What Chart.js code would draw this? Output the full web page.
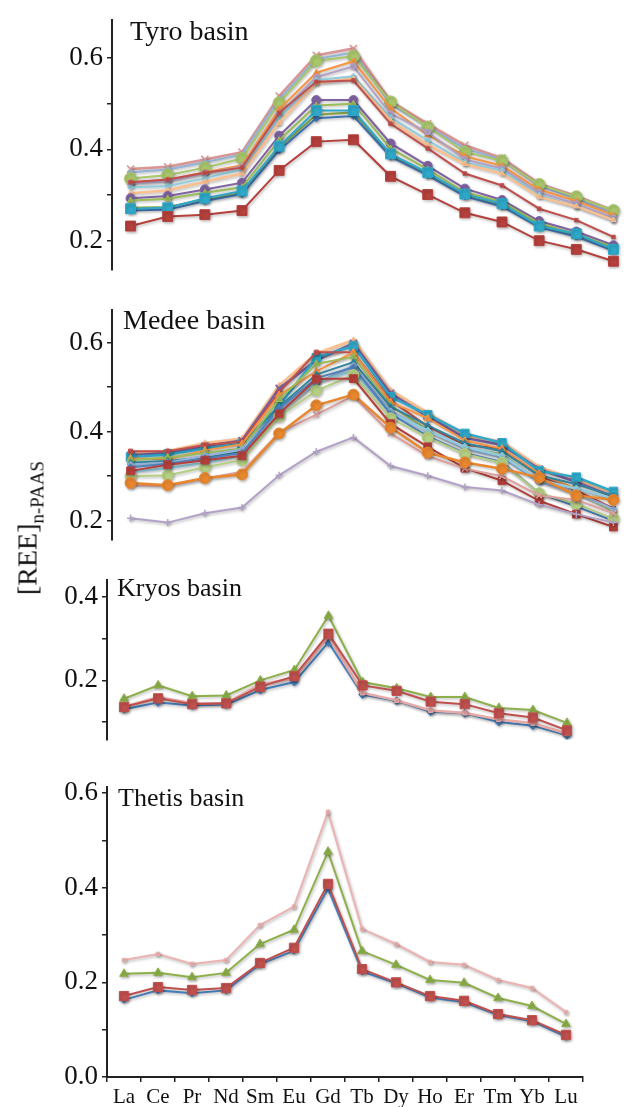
<!DOCTYPE html>
<html>
<head>
<meta charset="utf-8">
<script src="https://cdn.jsdelivr.net/npm/chart.js@4.4.1/dist/chart.umd.min.js"></script>
<style>
  html, body { margin: 0; padding: 0; background: #fff; overflow: hidden; }
  #wrap { position: relative; width: 629px; height: 1107px; overflow: hidden; }
  canvas { position: absolute; left: 0; }
  .basin { position: absolute; font-family: "Liberation Serif", "Times New Roman", serif; color: #111; line-height: 28px; white-space: nowrap; }
  #ytitle { position: absolute; left: 30px; top: 528px; transform: translate(-50%, -50%) rotate(-90deg);
            font-family: "Liberation Serif", "Times New Roman", serif; font-size: 28px; color: #111; white-space: nowrap; }
  #ytitle sub { font-size: 19px; vertical-align: -7px; }
</style>
</head>
<body>
<div id="wrap">
  <canvas id="tyro" width="640" height="290" style="top:0px"></canvas>
  <canvas id="medee" width="640" height="270" style="top:290px"></canvas>
  <canvas id="kryos" width="629" height="200" style="top:560px"></canvas>
  <canvas id="thetis" width="629" height="367" style="top:740px"></canvas>
  <div class="basin" style="left:130px;top:17px;font-size:28px">Tyro basin</div>
  <div class="basin" style="left:123px;top:306px;font-size:28px">Medee basin</div>
  <div class="basin" style="left:117px;top:574px;font-size:26px">Kryos basin</div>
  <div class="basin" style="left:118px;top:784px;font-size:26px">Thetis basin</div>
  <div id="ytitle">[REE]<sub>n-PAAS</sub></div>
</div>
<script>
// -------------------------
// Data
// -------------------------
const elements = ["La", "Ce", "Pr", "Nd", "Sm", "Eu", "Gd", "Tb", "Dy", "Ho", "Er", "Tm", "Yb", "Lu"];

// Tyro basin
const tyro01 = [0.357, 0.362, 0.378, 0.394, 0.517, 0.606, 0.621, 0.506, 0.456, 0.409, 0.381, 0.325, 0.298, 0.266];
const tyro02 = [0.350, 0.356, 0.372, 0.389, 0.510, 0.598, 0.612, 0.500, 0.450, 0.402, 0.377, 0.320, 0.292, 0.258];
const tyro03 = [0.336, 0.344, 0.360, 0.380, 0.502, 0.594, 0.604, 0.504, 0.449, 0.394, 0.375, 0.323, 0.296, 0.266];
const tyro04 = [0.328, 0.333, 0.350, 0.365, 0.488, 0.568, 0.593, 0.490, 0.432, 0.385, 0.364, 0.312, 0.287, 0.256];
const tyro05 = [0.326, 0.330, 0.348, 0.362, 0.478, 0.558, 0.582, 0.478, 0.438, 0.378, 0.358, 0.306, 0.281, 0.250];
const tyro06 = [0.328, 0.334, 0.349, 0.360, 0.480, 0.548, 0.551, 0.456, 0.402, 0.347, 0.321, 0.270, 0.245, 0.208];
const tyro07 = [0.317, 0.320, 0.337, 0.356, 0.470, 0.552, 0.560, 0.470, 0.420, 0.372, 0.354, 0.300, 0.275, 0.245];
const tyro08 = [0.304, 0.310, 0.329, 0.347, 0.458, 0.545, 0.555, 0.463, 0.410, 0.368, 0.347, 0.296, 0.275, 0.245];
const tyro09 = [0.293, 0.298, 0.312, 0.327, 0.430, 0.508, 0.508, 0.413, 0.364, 0.314, 0.289, 0.243, 0.220, 0.190];
const tyro10 = [0.288, 0.292, 0.305, 0.317, 0.420, 0.496, 0.500, 0.402, 0.356, 0.306, 0.285, 0.238, 0.214, 0.186];
const tyro11 = [0.270, 0.272, 0.293, 0.309, 0.407, 0.485, 0.485, 0.390, 0.349, 0.302, 0.281, 0.232, 0.215, 0.181];
const tyro12 = [0.272, 0.274, 0.290, 0.305, 0.404, 0.476, 0.481, 0.386, 0.346, 0.300, 0.278, 0.234, 0.211, 0.183];
const tyro13 = [0.266, 0.268, 0.287, 0.302, 0.398, 0.468, 0.473, 0.384, 0.343, 0.297, 0.275, 0.229, 0.209, 0.178];
const tyro14 = [0.232, 0.253, 0.257, 0.266, 0.354, 0.417, 0.421, 0.341, 0.301, 0.261, 0.241, 0.200, 0.181, 0.155];

// Medee basin
const medee01 = [0.352, 0.356, 0.374, 0.384, 0.503, 0.575, 0.605, 0.492, 0.442, 0.392, 0.377, 0.320, 0.292, 0.262];
const medee02 = [0.347, 0.352, 0.367, 0.380, 0.497, 0.560, 0.598, 0.486, 0.434, 0.386, 0.370, 0.316, 0.287, 0.254];
const medee03 = [0.343, 0.349, 0.362, 0.373, 0.458, 0.566, 0.592, 0.478, 0.438, 0.396, 0.375, 0.312, 0.298, 0.266];
const medee04 = [0.356, 0.356, 0.370, 0.378, 0.488, 0.578, 0.578, 0.470, 0.412, 0.370, 0.362, 0.300, 0.268, 0.228];
const medee05 = [0.340, 0.338, 0.358, 0.372, 0.482, 0.535, 0.578, 0.466, 0.430, 0.380, 0.362, 0.306, 0.272, 0.248];
const medee06 = [0.336, 0.342, 0.352, 0.362, 0.472, 0.552, 0.568, 0.458, 0.404, 0.362, 0.350, 0.290, 0.262, 0.222];
const medee07 = [0.330, 0.334, 0.342, 0.356, 0.456, 0.528, 0.556, 0.456, 0.414, 0.374, 0.356, 0.302, 0.282, 0.256];
const medee08 = [0.326, 0.330, 0.346, 0.360, 0.448, 0.508, 0.548, 0.446, 0.402, 0.362, 0.342, 0.288, 0.262, 0.226];
const medee09 = [0.320, 0.328, 0.340, 0.352, 0.452, 0.520, 0.544, 0.440, 0.390, 0.352, 0.332, 0.262, 0.232, 0.200];
const medee10 = [0.310, 0.318, 0.330, 0.346, 0.442, 0.512, 0.536, 0.442, 0.402, 0.366, 0.346, 0.292, 0.272, 0.250];
const medee11 = [0.312, 0.326, 0.336, 0.346, 0.440, 0.518, 0.519, 0.418, 0.366, 0.318, 0.290, 0.245, 0.215, 0.186];
const medee12 = [0.300, 0.302, 0.320, 0.336, 0.434, 0.492, 0.527, 0.430, 0.387, 0.350, 0.330, 0.262, 0.238, 0.205];
const medee13 = [0.279, 0.278, 0.295, 0.310, 0.398, 0.438, 0.480, 0.396, 0.345, 0.317, 0.300, 0.257, 0.247, 0.217];
const medee14 = [0.285, 0.280, 0.296, 0.304, 0.396, 0.459, 0.483, 0.409, 0.353, 0.331, 0.317, 0.297, 0.257, 0.247];
const medee15 = [0.206, 0.196, 0.217, 0.230, 0.302, 0.355, 0.387, 0.323, 0.301, 0.276, 0.268, 0.236, 0.215, 0.196];

// Kryos basin
const kryosGreen = [0.156, 0.188, 0.162, 0.164, 0.200, 0.225, 0.355, 0.196, 0.181, 0.160, 0.160, 0.134, 0.129, 0.098];
const kryosRed   = [0.136, 0.157, 0.143, 0.145, 0.185, 0.210, 0.312, 0.188, 0.175, 0.149, 0.143, 0.121, 0.111, 0.080];
const kryosPink  = [0.137, 0.160, 0.145, 0.146, 0.190, 0.205, 0.305, 0.170, 0.152, 0.128, 0.122, 0.106, 0.097, 0.072];
const kryosBlue  = [0.131, 0.147, 0.140, 0.142, 0.177, 0.196, 0.291, 0.166, 0.151, 0.125, 0.121, 0.100, 0.091, 0.068];

// Thetis basin
const thetisPink  = [0.247, 0.260, 0.239, 0.247, 0.321, 0.360, 0.560, 0.313, 0.281, 0.243, 0.237, 0.205, 0.188, 0.137];
const thetisGreen = [0.218, 0.220, 0.211, 0.220, 0.281, 0.311, 0.476, 0.266, 0.237, 0.205, 0.199, 0.167, 0.150, 0.112];
const thetisRed   = [0.171, 0.190, 0.184, 0.188, 0.241, 0.273, 0.408, 0.228, 0.200, 0.171, 0.161, 0.133, 0.120, 0.089];
const thetisBlue  = [0.163, 0.183, 0.177, 0.183, 0.238, 0.267, 0.398, 0.223, 0.198, 0.168, 0.158, 0.131, 0.118, 0.085];

// -------------------------
// Helpers
// -------------------------
const SERIF = "'Liberation Serif', 'Times New Roman', serif";

function series(data, color, style, radius, width) {
  return {
    data: data,
    borderColor: color,
    backgroundColor: color,
    borderWidth: width || 2,
    pointStyle: style,
    pointRadius: radius,
    pointBorderWidth: style === "crossRot" || style === "cross" ? 1.5 : 1,
    pointBorderColor: color,
    pointBackgroundColor: color,
    tension: 0
  };
}

// soft Excel-ish shadow under lines and markers
const shadowPlugin = {
  id: "shadow",
  beforeDatasetsDraw(chart) {
    const ctx = chart.ctx;
    ctx.save();
    ctx.shadowColor = "rgba(0,0,0,0.28)";
    ctx.shadowBlur = 3;
    ctx.shadowOffsetX = 1;
    ctx.shadowOffsetY = 1.5;
  },
  afterDatasetsDraw(chart) {
    chart.ctx.restore();
  }
};

function makePanel(id, datasets, cfg) {
  const showX = !!cfg.showX;
  return new Chart(document.getElementById(id), {
    type: "line",
    data: { labels: elements, datasets: datasets },
    options: {
      responsive: false,
      animation: false,
      devicePixelRatio: 1,
      layout: { padding: { left: 0, right: cfg.padRight, top: cfg.padTop, bottom: cfg.padBottom } },
      plugins: { legend: { display: false }, tooltip: { enabled: false } },
      scales: {
        x: {
          display: showX,
          offset: true,
          afterFit: s => { s.height = showX ? 30 : 0; },
          grid: { offset: true, drawOnChartArea: false, drawTicks: true, tickLength: 5, color: "#222", lineWidth: 1.5 },
          border: { display: true, color: "#222", width: 2 },
          ticks: { color: "#111", padding: 3, font: { family: SERIF, size: 21 }, maxRotation: 0, autoSkip: false }
        },
        y: {
          min: cfg.min,
          max: cfg.max,
          afterFit: s => { s.width = cfg.axisX; },
          grid: { drawOnChartArea: false, drawTicks: true, tickLength: 5, color: "#222", lineWidth: 1.5 },
          border: { display: true, color: "#222", width: 2 },
          ticks: {
            stepSize: 0.1,
            includeBounds: false,
            padding: 4,
            color: "#111",
            font: { family: SERIF, size: 27 },
            callback: v => (Math.round(v * 10) % 2 === 0 ? v.toFixed(1) : "")
          }
        }
      }
    },
    plugins: [shadowPlugin]
  });
}

// -------------------------
// Panels
// -------------------------
makePanel("tyro", [
  series(tyro14, "#B5403C", "rect", 7, 2),
  series(tyro11, "#2FA8C9", "rect", 7, 2),
  series(tyro13, "#3F73B5", "rectRot", 3.5, 2),
  series(tyro12, "#8DB04A", "triangle", 3.5, 2),
  series(tyro10, "#9BBB59", "triangle", 3.5, 2),
  series(tyro09, "#8064A2", "circle", 4.5, 2),
  series(tyro06, "#C0504D", "rect", 2.5, 2),
  series(tyro08, "#FAC090", "triangle", 3, 2.5),
  series(tyro07, "#93CDDD", "rectRot", 3, 2),
  series(tyro05, "#B3A2C7", "circle", 3, 2),
  series(tyro04, "#F79646", "triangle", 3.5, 2),
  series(tyro03, "#A8C66C", "circle", 6, 2),
  series(tyro02, "#95B3D7", "rectRot", 3, 2),
  series(tyro01, "#D99694", "crossRot", 5, 2.5)
], { min: 0.2 - 30 / 470, max: 0.6 + 39 / 470, axisX: 112, padRight: 8, padTop: 15, padBottom: 18 });

makePanel("medee", [
  series(medee15, "#B3A2C7", "cross", 3.5, 2),
  series(medee14, "#E8872E", "circle", 5.5, 2.5),
  series(medee13, "#DFA09E", "crossRot", 4, 2),
  series(medee11, "#B5403C", "rect", 5.5, 2),
  series(medee12, "#B5CF83", "circle", 5.5, 2),
  series(medee09, "#4F81BD", "rectRot", 3.5, 2),
  series(medee10, "#93CDDD", "rectRot", 3.5, 2.5),
  series(medee08, "#95B3D7", "rectRot", 3.5, 2.5),
  series(medee07, "#31859C", "triangle", 3.5, 2),
  series(medee06, "#9BBB59", "triangle", 4, 2),
  series(medee05, "#F79646", "triangle", 4, 2),
  series(medee04, "#C0504D", "rect", 3, 2),
  series(medee03, "#2FA8C9", "rect", 6, 2.5),
  series(medee02, "#7660A0", "crossRot", 5, 2.5),
  series(medee01, "#FAC090", "triangle", 3.5, 3)
], { min: 0.2 - 20 / 470, max: 0.6 + 34 / 470, axisX: 112, padRight: 8, padTop: 13, padBottom: 15 });

makePanel("kryos", [
  series(kryosRed, "#C0504D", "rect", 6.5, 2),
  series(kryosPink, "#E8A9A7", "rect", 3, 2.5),
  series(kryosBlue, "#4A86C5", "rectRot", 4, 2),
  series(kryosGreen, "#8DB04A", "triangle", 5, 2)
], { min: 0.4 - 161 / 470, max: 0.4 + 19 / 470, axisX: 107, padRight: 45, padTop: 12, padBottom: 8 });

makePanel("thetis", [
  series(thetisRed, "#C0504D", "rect", 6.5, 2),
  series(thetisBlue, "#4A86C5", "rectRot", 3.5, 2),
  series(thetisGreen, "#8DB04A", "triangle", 5, 2),
  series(thetisPink, "#EBB3B1", "rect", 2.5, 2)
], { min: 0, max: 0.6 + 6 / 473, axisX: 107, padRight: 46, padTop: 47, padBottom: 0, showX: true });
</script>
</body>
</html>
